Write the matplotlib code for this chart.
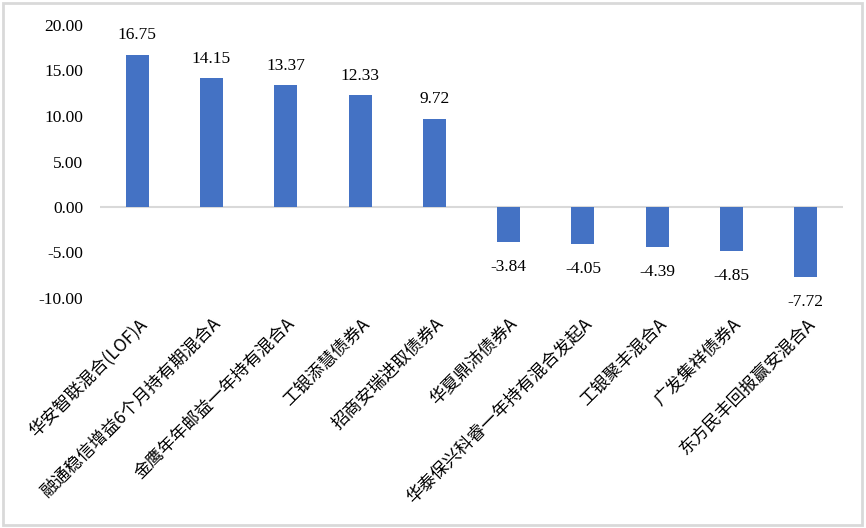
import matplotlib
matplotlib.use('Agg')
import matplotlib.pyplot as plt
from matplotlib.patches import Rectangle

# fund names and returns (%)
funds = ['华安智联混合(LOF)A', '融通稳信增益6个月持有期混合A', '金鹰年年邮益一年持有混合A',
         '工银添慧债券A', '招商安瑞进取债券A', '华夏鼎沛债券A', '华泰保兴科睿一年持有混合发起A',
         '工银聚丰混合A', '广发集祥债券A', '东方民丰回报赢安混合A']
returns = [16.75, 14.15, 13.37, 12.33, 9.72, -3.84, -4.05, -4.39, -4.85, -7.72]
yticks = [-10, -5, 0, 5, 10, 15, 20]

num_font = 'Liberation Serif'
cjk_font = ['Noto Sans CJK SC', 'DejaVu Sans']

fig = plt.figure(figsize=(8.66, 5.28), dpi=100)
ax = fig.add_axes([100/866, 1 - 298/528, 743/866, 273/528])

x = list(range(len(funds)))
ax.bar(x, returns, width=0.31, color='#4472C4', zorder=2)
ax.axhline(0, color='#d9d9d9', lw=1.5, zorder=1)

for xi, v in zip(x, returns):
    if v >= 0:
        ax.annotate('{:.2f}'.format(v), (xi, v), xytext=(0, 8), textcoords='offset points',
                    ha='center', va='bottom', fontsize=12.5, family=num_font)
    else:
        ax.annotate('{:.2f}'.format(v), (xi, v), xytext=(0, -12), textcoords='offset points',
                    ha='center', va='top', fontsize=12.5, family=num_font)

ax.set_xlim(-0.5, len(funds) - 0.5)
ax.set_ylim(-10, 20)
ax.set_yticks(yticks)
ax.set_yticklabels(['{:.2f}'.format(t) for t in yticks], family=num_font, fontsize=12.5)
ax.set_xticks(x)
ax.set_xticklabels(funds, rotation=45, ha='right', rotation_mode='anchor',
                   family=cjk_font, fontsize=12.5)
ax.tick_params(length=0)
ax.tick_params(axis='x', pad=12)
ax.tick_params(axis='y', pad=12)
for s in ax.spines.values():
    s.set_visible(False)

# light border around the whole picture
fig.patches.append(Rectangle((0.003, 0.005), 0.992, 0.99, transform=fig.transFigure,
                             fill=False, edgecolor='#d9d9d9', lw=2))

fig.savefig('out.png', dpi=100)
